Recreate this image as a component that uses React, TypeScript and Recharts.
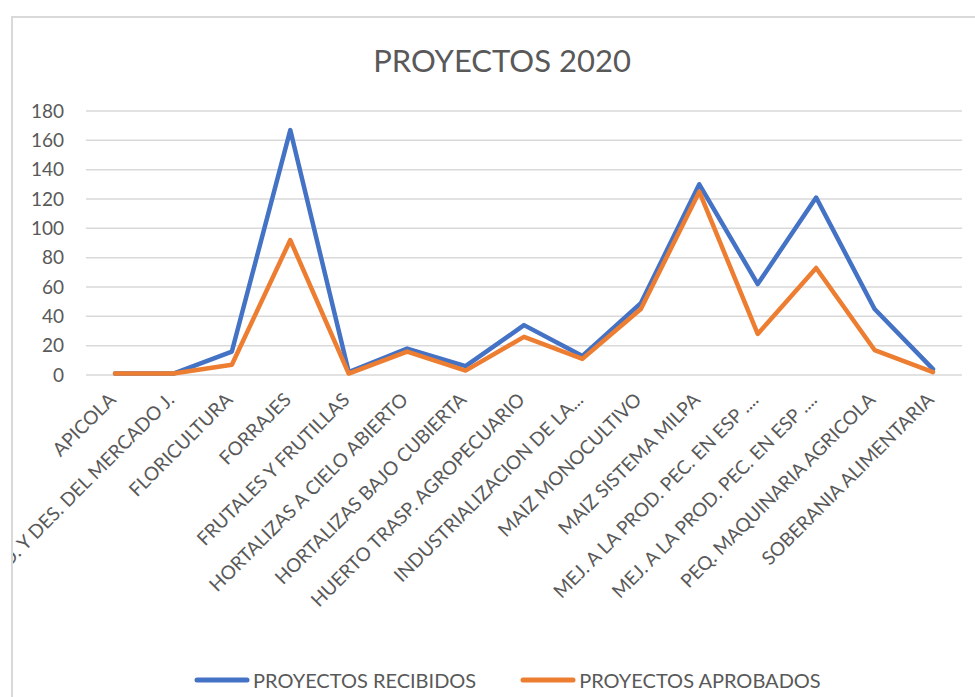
import React from 'react';
import { LineChart, Line, XAxis, YAxis, CartesianGrid, Legend } from 'recharts';

const categories = [
  'APICOLA',
  'PROD. Y DES. DEL MERCADO J.',
  'FLORICULTURA',
  'FORRAJES',
  'FRUTALES Y FRUTILLAS',
  'HORTALIZAS A CIELO ABIERTO',
  'HORTALIZAS BAJO CUBIERTA',
  'HUERTO TRASP. AGROPECUARIO',
  'INDUSTRIALIZACION DE LA...',
  'MAIZ MONOCULTIVO',
  'MAIZ SISTEMA MILPA',
  'MEJ. A LA PROD. PEC. EN ESP ....',
  'MEJ. A LA PROD. PEC. EN ESP ....',
  'PEQ.  MAQUINARIA AGRICOLA',
  'SOBERANIA ALIMENTARIA',
];
const recibidos = [1, 1, 16, 167, 2, 18, 6, 34, 13, 49, 130, 62, 121, 45, 4];
const aprobados = [1, 1, 7, 92, 1, 16, 3, 26, 11, 45, 125, 28, 73, 17, 2];
const yTicks = [0, 20, 40, 60, 80, 100, 120, 140, 160, 180];

const data = categories.map((name, i) => ({
  key: i,
  name,
  recibidos: recibidos[i],
  aprobados: aprobados[i],
}));

const FONT = 'Lato, "Open Sans", sans-serif';
const TEXT = '#595959';
const BLUE = '#4472C4';
const ORANGE = '#ED7D31';

function CategoryTick(props: any) {
  const { x, y, payload } = props;
  const label = categories[payload.value];
  const ax = x + 2;
  const ay = y + 18;
  return (
    <text
      x={ax}
      y={ay}
      transform={`rotate(-45, ${ax}, ${ay})`}
      textAnchor="end"
      fill={TEXT}
      fontSize={19}
      fontFamily={FONT}
    >
      {label}
    </text>
  );
}

function LegendContent() {
  const items = [
    { label: 'PROYECTOS RECIBIDOS', color: BLUE },
    { label: 'PROYECTOS APROBADOS', color: ORANGE },
  ];
  return (
    <div style={{ display: 'flex', alignItems: 'center', gap: 44 }}>
      {items.map((it) => (
        <div key={it.label} style={{ display: 'flex', alignItems: 'center' }}>
          <svg width={56} height={10}>
            <line x1={3} y1={5} x2={53} y2={5} stroke={it.color} strokeWidth={5} strokeLinecap="round" />
          </svg>
          <span style={{ marginLeft: 3, fontSize: 20, color: TEXT, fontFamily: FONT, whiteSpace: 'nowrap' }}>
            {it.label}
          </span>
        </div>
      ))}
    </div>
  );
}

export default function App() {
  return (
    <div style={{ position: 'absolute', left: 0, top: 0, width: 975, height: 697, overflow: 'hidden', background: '#fff' }}>
      <div
        style={{
          position: 'absolute',
          left: 11,
          top: 16,
          width: 1000,
          height: 720,
          borderLeft: '2px solid #d9d9d9',
          borderTop: '2px solid #d9d9d9',
        }}
      >
        <div
          style={{
            position: 'absolute',
            left: 0,
            top: 23,
            width: 962,
            textAlign: 'center',
            fontFamily: FONT,
            fontSize: 31,
            color: TEXT,
          }}
        >
          <span style={{ position: 'relative', left: 8 }}>PROYECTOS 2020</span>
        </div>
        <LineChart width={962} height={679} data={data} margin={{ top: 93, right: 13, left: 13, bottom: 62 }}>
          <CartesianGrid vertical={false} stroke="#d9d9d9" strokeWidth={1.5} />
          <XAxis
            dataKey="key"
            type="category"
            axisLine={false}
            tickLine={false}
            interval={0}
            height={236}
            padding={{ left: 29, right: 29 }}
            tick={<CategoryTick />}
          />
          <YAxis
            domain={[0, 180]}
            ticks={yTicks}
            interval={0}
            width={60}
            axisLine={false}
            tickLine={false}
            tickMargin={16}
            tick={{ fill: TEXT, fontSize: 19, fontFamily: FONT }}
          />
          <Legend
            content={<LegendContent />}
            wrapperStyle={{ position: 'absolute', left: 181, top: 650, width: 'auto' }}
          />
          <Line
            type="linear"
            dataKey="recibidos"
            name="PROYECTOS RECIBIDOS"
            stroke={BLUE}
            strokeWidth={4.5}
            strokeLinejoin="round"
            strokeLinecap="round"
            dot={false}
            isAnimationActive={false}
          />
          <Line
            type="linear"
            dataKey="aprobados"
            name="PROYECTOS APROBADOS"
            stroke={ORANGE}
            strokeWidth={4.5}
            strokeLinejoin="round"
            strokeLinecap="round"
            dot={false}
            isAnimationActive={false}
          />
        </LineChart>
      </div>
    </div>
  );
}
